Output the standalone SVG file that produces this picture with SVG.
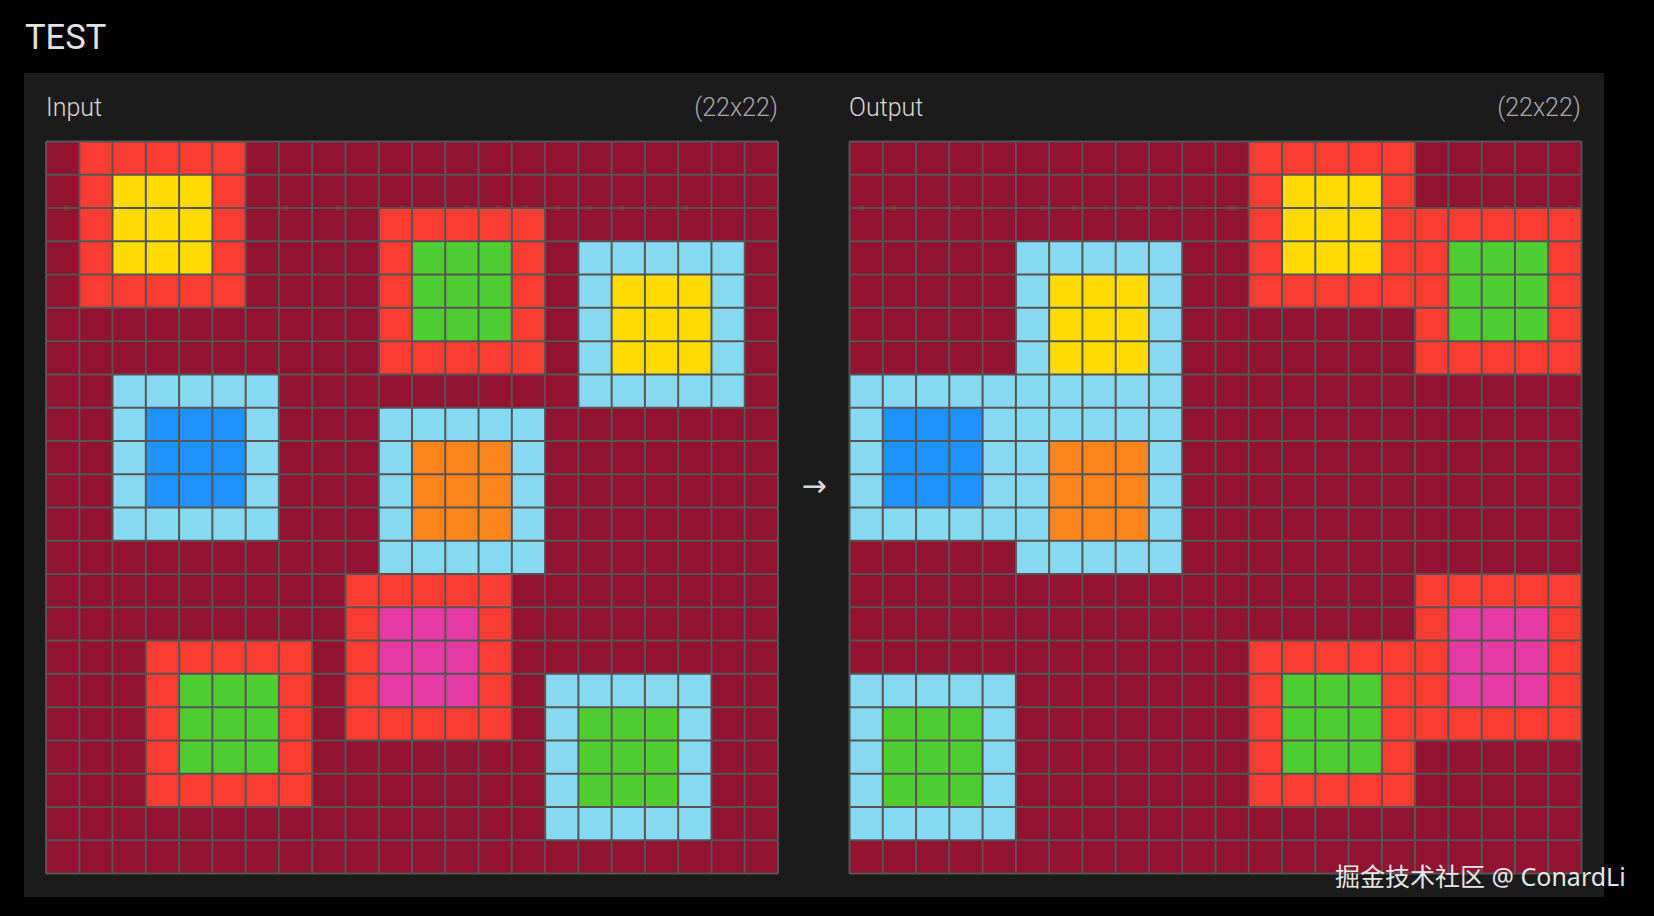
<svg xmlns="http://www.w3.org/2000/svg" xmlns:xlink="http://www.w3.org/1999/xlink" width="1654" height="916" viewBox="0 0 1654 916">
<style>
.title{font-family:Roboto,"Liberation Sans",sans-serif;font-size:34.5px;fill:#e2e2e2;font-weight:400}
.lbl{font-family:Roboto,"Liberation Sans",sans-serif;font-size:25px;fill:#d8d8d8;font-weight:300}
.dim{font-family:Roboto,"Liberation Sans",sans-serif;font-size:25px;fill:#a8a8a8;text-anchor:end;font-weight:300}
.arrow{font-family:"DejaVu Sans",sans-serif;font-size:30px;fill:#d8d8d8;text-anchor:middle}
.wm{font-family:"Noto Sans","Noto Sans CJK SC",sans-serif;font-size:25px;fill:#e6e6e6}
.bg{fill:#921231}
.r{fill:#F93C31}.y{fill:#FFDC00}.g{fill:#4FCC30}.b{fill:#1E93FF}.lb{fill:#87D8F1}.o{fill:#FF851B}.m{fill:#E53AA3}
.grid{fill:none;stroke:#555555;stroke-width:2;vector-effect:non-scaling-stroke}
</style>
<defs>
<path id="gl" class="grid" d="M0 0V22M1 0V22M2 0V22M3 0V22M4 0V22M5 0V22M6 0V22M7 0V22M8 0V22M9 0V22M10 0V22M11 0V22M12 0V22M13 0V22M14 0V22M15 0V22M16 0V22M17 0V22M18 0V22M19 0V22M20 0V22M21 0V22M22 0V22M0 0H22M0 1H22M0 2H22M0 3H22M0 4H22M0 5H22M0 6H22M0 7H22M0 8H22M0 9H22M0 10H22M0 11H22M0 12H22M0 13H22M0 14H22M0 15H22M0 16H22M0 17H22M0 18H22M0 19H22M0 20H22M0 21H22M0 22H22"/>
</defs>
<rect x="0" y="0" width="1654" height="916" fill="#000"/>
<text class="title" x="25" y="49">TEST</text>
<rect id="panel" x="24" y="73" width="1580" height="824" fill="#1b1b1b"/>
<text class="lbl" x="46" y="116">Input</text>
<text class="dim" x="778" y="116">(22x22)</text>
<text class="lbl" x="849" y="116">Output</text>
<text class="dim" x="1581" y="116">(22x22)</text>

<g id="input-grid" transform="translate(46,141.5) scale(33.2727)">
<rect class="bg" x="0" y="0" width="22" height="22"/>
<g id="in-red-yellow"><rect class="r" x="1" y="0" width="5" height="5"/><rect class="y" x="2" y="1" width="3" height="3"/></g>
<g id="in-red-green-a"><rect class="r" x="10" y="2" width="5" height="5"/><rect class="g" x="11" y="3" width="3" height="3"/></g>
<g id="in-lb-yellow"><rect class="lb" x="16" y="3" width="5" height="5"/><rect class="y" x="17" y="4" width="3" height="3"/></g>
<g id="in-lb-blue"><rect class="lb" x="2" y="7" width="5" height="5"/><rect class="b" x="3" y="8" width="3" height="3"/></g>
<g id="in-lb-orange"><rect class="lb" x="10" y="8" width="5" height="5"/><rect class="o" x="11" y="9" width="3" height="3"/></g>
<g id="in-red-magenta"><rect class="r" x="9" y="13" width="5" height="5"/><rect class="m" x="10" y="14" width="3" height="3"/></g>
<g id="in-red-green-b"><rect class="r" x="3" y="15" width="5" height="5"/><rect class="g" x="4" y="16" width="3" height="3"/></g>
<g id="in-lb-green"><rect class="lb" x="15" y="16" width="5" height="5"/><rect class="g" x="16" y="17" width="3" height="3"/></g>
<use xlink:href="#gl"/>
</g>

<g id="connectors">
<text class="arrow" x="814" y="496">→</text>
</g>

<g id="output-grid" transform="translate(849.5,141.5) scale(33.2727)">
<rect class="bg" x="0" y="0" width="22" height="22"/>
<g id="out-red-yellow"><rect class="r" x="12" y="0" width="5" height="5"/><rect class="y" x="13" y="1" width="3" height="3"/></g>
<g id="out-red-green-a"><rect class="r" x="17" y="2" width="5" height="5"/><rect class="g" x="18" y="3" width="3" height="3"/></g>
<g id="out-lb-yellow"><rect class="lb" x="5" y="3" width="5" height="5"/><rect class="y" x="6" y="4" width="3" height="3"/></g>
<g id="out-lb-blue"><rect class="lb" x="0" y="7" width="5" height="5"/><rect class="b" x="1" y="8" width="3" height="3"/></g>
<g id="out-lb-orange"><rect class="lb" x="5" y="8" width="5" height="5"/><rect class="o" x="6" y="9" width="3" height="3"/></g>
<g id="out-red-magenta"><rect class="r" x="17" y="13" width="5" height="5"/><rect class="m" x="18" y="14" width="3" height="3"/></g>
<g id="out-red-green-b"><rect class="r" x="12" y="15" width="5" height="5"/><rect class="g" x="13" y="16" width="3" height="3"/></g>
<g id="out-lb-green"><rect class="lb" x="0" y="16" width="5" height="5"/><rect class="g" x="1" y="17" width="3" height="3"/></g>
<use xlink:href="#gl"/>
</g>

<text class="wm" x="1335" y="886">掘金技术社区 @ ConardLi</text>
</svg>
